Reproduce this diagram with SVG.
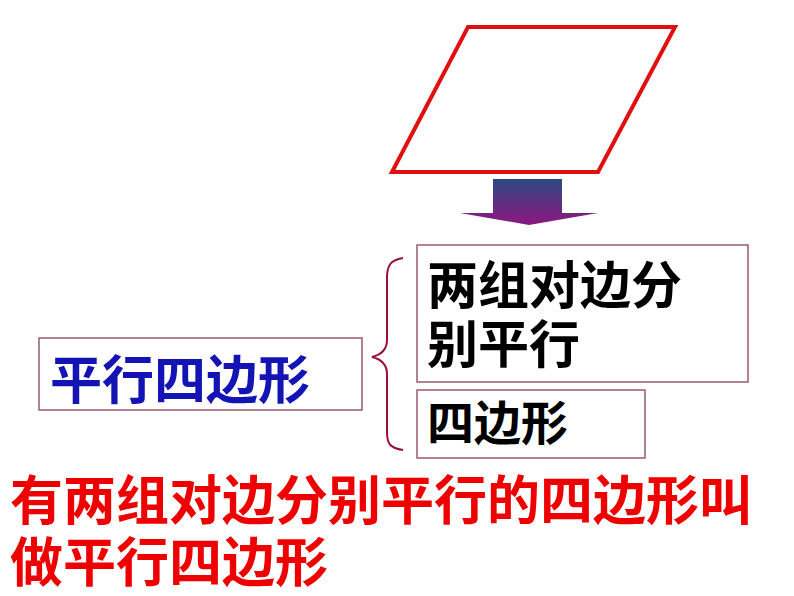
<svg xmlns="http://www.w3.org/2000/svg" width="794" height="596" viewBox="0 0 794 596">
<defs>
<linearGradient id="g" x1="0" y1="0" x2="0" y2="1">
<stop offset="0" stop-color="#2c4a82"/>
<stop offset="1" stop-color="#8e1680"/>
</linearGradient>
<style>
text{font-family:"Noto Sans CJK SC","Noto Sans",sans-serif;font-weight:700}
.box{fill:#fff;stroke:#9a5a72;stroke-width:1.5}
</style>
</defs>
<rect width="794" height="596" fill="#fff"/>
<g id="shape">
<polygon points="468,27 675,27 598,172 392,172" fill="none" stroke="#e01010" stroke-width="4"/>
</g>
<g id="connectors">
<polygon points="493,179 562,179 562,213 598,213 529,225 460,213 493,213" fill="url(#g)"/>
<path d="M403,258 C390,260 387,266 387,278 L387,340 C387,350 380,355 372,357 C380,359 387,364 387,374 L387,432 C387,444 390,448 403,450" fill="none" stroke="#9b1035" stroke-width="2"/>
</g>
<g id="node-main">
<rect class="box" x="39" y="338" width="323" height="72"/>
<text x="50" y="399" font-size="52" fill="#1414b4">平行四边形</text>
</g>
<g id="node-cond1">
<rect class="box" x="417" y="245" width="331" height="137"/>
<text font-size="51" fill="#000"><tspan x="427" y="304">两组对边分</tspan><tspan x="427" y="363">别平行</tspan></text>
</g>
<g id="node-cond2">
<rect class="box" x="417" y="390" width="228" height="68"/>
<text x="427" y="440" font-size="47" fill="#000">四边形</text>
</g>
<g id="definition">
<text font-size="53" fill="#ee0000"><tspan x="10" y="520">有两组对边分别平行的四边形叫</tspan><tspan x="10" y="582">做平行四边形</tspan></text>
</g>
</svg>
